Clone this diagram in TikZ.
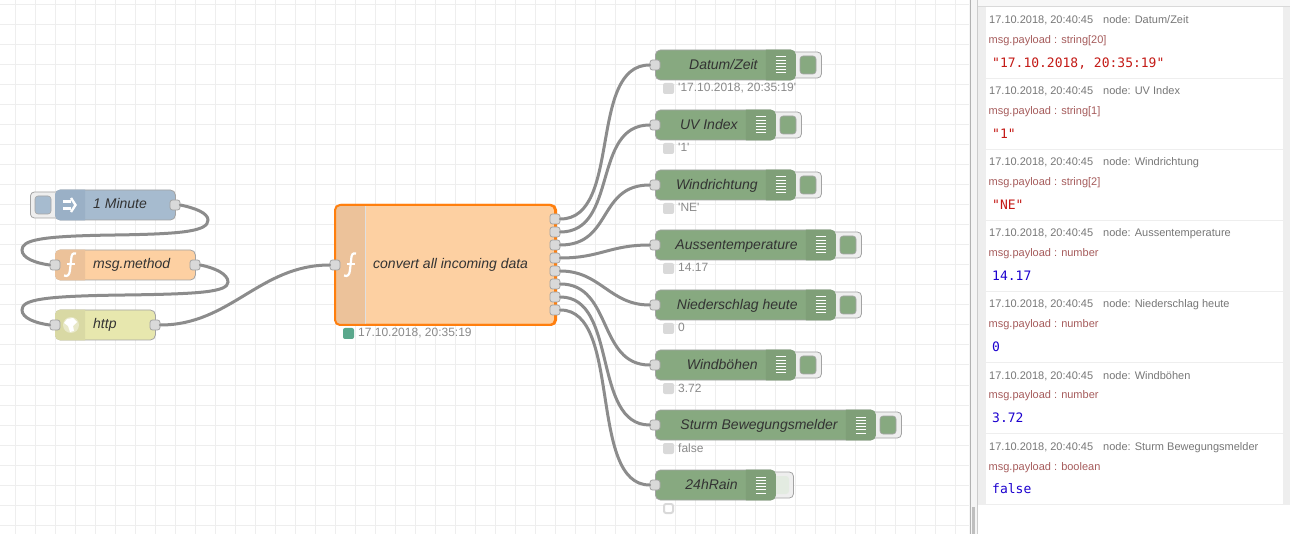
\documentclass[tikz,border=0pt]{standalone}
\usepackage{fontspec}
\newfontfamily\flowfont{Liberation Sans}
\newfontfamily\valuefont{DejaVu Sans Mono}
\definecolor{gridcol}{HTML}{EEEEEE}
\definecolor{wirecol}{HTML}{8C8C8C}
\definecolor{edgecol}{HTML}{A3A3A3}
\definecolor{portcol}{HTML}{D9D9D9}
\definecolor{injectcol}{HTML}{A6BBCF}
\definecolor{injectbar}{HTML}{9AB0C6}
\definecolor{funccol}{HTML}{FDD0A2}
\definecolor{funcbar}{HTML}{ECC29A}
\definecolor{httpcol}{HTML}{E7E7AE}
\definecolor{httpbar}{HTML}{D9D9A4}
\definecolor{debugcol}{HTML}{87A980}
\definecolor{debugbar}{HTML}{7F9F78}
\definecolor{palecol}{HTML}{E3EBE1}
\definecolor{selectcol}{HTML}{FF7F0E}
\definecolor{statusgreen}{HTML}{5AA88C}
\definecolor{statustext}{HTML}{8A8A8A}
\definecolor{metacol}{HTML}{777777}
\definecolor{typecol}{HTML}{A65C5C}
\definecolor{strcol}{HTML}{C41A16}
\definecolor{numcol}{HTML}{1C00CF}
\tikzset{
    flowbody/.style={draw=edgecol, line width=.8pt, rounded corners=5pt, inner sep=0pt, minimum height=30pt},
    flowlabel/.style={inner sep=0pt, text=black!80, font=\flowfont\fontsize{14}{16}\selectfont\itshape},
    flowport/.style={draw=edgecol, fill=portcol, line width=.8pt, rounded corners=2.5pt, inner sep=0pt, minimum size=10pt},
    wire/.style={draw=wirecol, line width=3pt, line cap=round},
    btnbox/.style={draw=edgecol, fill=gridcol, line width=.8pt, rounded corners=4pt, inner sep=0pt, minimum height=26pt},
    btninner/.style={draw=black!35, line width=.6pt, rounded corners=3pt, inner sep=0pt, minimum height=18pt, minimum width=16pt},
    statusdot/.style={rounded corners=2pt, inner sep=0pt, minimum size=11pt},
    statuslabel/.style={inner sep=0pt, anchor=base west, text=statustext, font=\flowfont\fontsize{12}{14}\selectfont},
    metalabel/.style={inner sep=0pt, anchor=base west, text=metacol, font=\flowfont\fontsize{11}{13}\selectfont},
    typelabel/.style={inner sep=0pt, anchor=base west, text=typecol, font=\flowfont\fontsize{11}{13}\selectfont},
    valuelabel/.style={inner sep=0pt, anchor=base west, font=\valuefont\fontsize{13}{15}\selectfont},
}
% name, y, width, label, status text, button width, inner style, status style
\newcommand{\debugnode}[8]{
    \node[btnbox, anchor=west, minimum width=#6pt] (#1btn) at (650+#3,#2) {};
    \node[btninner, #7] (#1inner) at (668+#3,#2) {};
    \node[flowbody, fill=debugcol, anchor=west, minimum width=#3pt] (#1) at (655,#2) {};
    \fill[debugbar] ([xshift=-30pt]#1.north east) [rounded corners=5pt] -- (#1.north east) -- (#1.south east) [sharp corners] -- ([xshift=-30pt]#1.south east) -- cycle;
    \foreach \k in {-8,-4.8,-1.6,1.6,4.8,8}
        \draw[white, line width=1pt] ([xshift=-20pt,yshift=\k pt]#1.east) -- ([xshift=-10pt,yshift=\k pt]#1.east);
    \node[flowlabel, anchor=base east] (#1label) at ([xshift=-38pt,yshift=-4.5pt]#1.east) {#4};
    \node[flowport] (#1in) at (655,#2) {};
    \node[statusdot, #8] (#1dot) at (668.5,#2+23.5) {};
    \node[statuslabel] (#1status) at (678,#2+27) {#5};
}
% the f of a function node
\newcommand{\funcicon}[2]{
    \begin{scope}[shift={(#1,#2)}]
        \draw[white, line width=2.2pt] (6,-11.5) .. controls (2.5,-12.5) and (1.5,-10) .. (1.2,-6) -- (0,5) .. controls (-.5,10) and (-2.5,12) .. (-6,10.5);
        \draw[white, line width=1.8pt] (-3.5,-1) -- (4.5,-1);
    \end{scope}
}
\begin{document}
\begin{tikzpicture}[x=1pt, y=-1pt]
    \useasboundingbox (0,0) rectangle (1290,534);
    \fill[white] (0,0) rectangle (1290,534);
    % grid of the workspace
    \foreach \gx in {15,35,...,955}
        \draw[gridcol, line width=1pt] (\gx,0) -- (\gx,534);
    \foreach \gy in {5,25,...,525}
        \draw[gridcol, line width=1pt] (0,\gy) -- (969,\gy);

    % input side
    \node[btnbox, anchor=west, minimum width=30pt] (minutebtn) at (30,205) {};
    \node[btninner, fill=injectcol] (minuteinner) at (43,205) {};
    \node[flowbody, fill=injectcol, anchor=west, minimum width=120pt] (minute) at (55,205) {};
    \fill[injectbar] ([xshift=30pt]minute.north west) [rounded corners=5pt] -- (minute.north west) -- (minute.south west) [sharp corners] -- ([xshift=30pt]minute.south west) -- cycle;
    \draw[white, line width=2.2pt] (63,201.5) -- (71,201.5) (63,208.5) -- (71,208.5);
    \draw[white, line width=2.4pt] (71,198) -- (75.5,205) -- (71,212);
    \node[flowlabel, anchor=base west] (minutelabel) at (93,209) {1 Minute};
    \node[flowport] (minuteout) at (175,205) {};

    \node[flowbody, fill=funccol, anchor=west, minimum width=140pt] (method) at (55,265) {};
    \fill[funcbar] ([xshift=30pt]method.north west) [rounded corners=5pt] -- (method.north west) -- (method.south west) [sharp corners] -- ([xshift=30pt]method.south west) -- cycle;
    \funcicon{70}{265}
    \node[flowlabel, anchor=base west] (methodlabel) at (93,269) {msg.method};
    \node[flowport] (methodin) at (55,265) {};
    \node[flowport] (methodout) at (195,265) {};

    \node[flowbody, fill=httpcol, anchor=west, minimum width=100pt] (http) at (55,325) {};
    \fill[httpbar] ([xshift=30pt]http.north west) [rounded corners=5pt] -- (http.north west) -- (http.south west) [sharp corners] -- ([xshift=30pt]http.south west) -- cycle;
    \fill[white, opacity=.4] (71,325) circle (8);
    \fill[white] (67,319) -- (73,318) -- (77,322) -- (73,326) -- (74,331) -- (70,332) -- (68,326) -- (64,323) -- cycle;
    \node[flowlabel, anchor=base west] (httplabel) at (93,329) {http};
    \node[flowport] (httpin) at (55,325) {};
    \node[flowport] (httpout) at (155,325) {};

    % the selected function
    \node[flowbody, draw=selectcol, line width=2pt, fill=funccol, anchor=west, minimum width=220pt, minimum height=120pt] (convert) at (335,265) {};
    \fill[funcbar] (336,206) -- (365,206) -- (365,324) -- (336,324) -- cycle;
    \draw[black!12, line width=.8pt] (365,206) -- (365,324);
    \draw[selectcol, line width=2pt, rounded corners=5pt] (335,205) rectangle (555,325);
    \funcicon{350}{265}
    \node[flowlabel, anchor=base west] (convertlabel) at (373,269) {convert all incoming data};
    \node[flowport] (convertin) at (335,265) {};
    \foreach \i/\py in {1/219,2/232,3/245,4/258,5/271,6/284,7/297,8/310}
        \node[flowport] (convert\i) at (555,\py) {};
    \node[statusdot, fill=statusgreen] (convertdot) at (348.5,333.5) {};
    \node[statuslabel] (convertstatus) at (358,337) {17.10.2018, 20:35:19};

    % debug nodes
    \debugnode{datum}{65}{140}{Datum/Zeit}{'17.10.2018, 20:35:19'}{31}{fill=debugcol}{fill=portcol}
    \debugnode{index}{125}{120}{UV Index}{'1'}{31}{fill=debugcol}{fill=portcol}
    \debugnode{wind}{185}{140}{Windrichtung}{'NE'}{31}{fill=debugcol}{fill=portcol}
    \debugnode{temp}{245}{180}{Aussentemperature}{14.17}{31}{fill=debugcol}{fill=portcol}
    \debugnode{rain}{305}{180}{Niederschlag heute}{0}{31}{fill=debugcol}{fill=portcol}
    \debugnode{gust}{365}{140}{Windböhen}{3.72}{31}{fill=debugcol}{fill=portcol}
    \debugnode{storm}{425}{220}{Sturm Bewegungsmelder}{false}{31}{fill=debugcol}{fill=portcol}
    \debugnode{daily}{485}{120}{24hRain}{}{23}{fill=palecol, draw=none, xshift=-7pt}{draw=portcol, line width=2pt, fill=white, minimum size=9pt}

    % wires
    \draw[wire] (minuteout.east) .. controls (195,208) and (208,213) .. (208,220) .. controls (208,231) and (185,234) .. (115,235) .. controls (40,236) and (22,240) .. (22,250) .. controls (22,258) and (35,263) .. (methodin.west);
    \draw[wire] (methodout.east) .. controls (215,268) and (228,274) .. (228,282) .. controls (228,292) and (200,294) .. (125,295) .. controls (40,296) and (22,300) .. (22,310) .. controls (22,318) and (35,323) .. (httpin.west);
    \draw[wire] (httpout.east) .. controls +(70,0) and +(-70,0) .. (convertin.west);
    \foreach \from/\to/\bend in {1/datum/62,2/index/58,3/wind/52,4/temp/40,5/rain/40,6/gust/52,7/storm/58,8/daily/62}
        \draw[wire] (convert\from.east) .. controls +(\bend,0) and +(-\bend,0) .. (\to in.west);

    % debug sidebar
    \fill[gridcol!60] (969,0) rectangle (978,534);
    \draw[black!30, line width=1pt] (970,0) -- (970,534);
    \draw[black!20, line width=1pt] (977.5,0) -- (977.5,534);
    \fill[black!25] (972,507) rectangle (975,534);
    \fill[gridcol!50] (978,0) rectangle (1290,6);
    \draw[black!15, line width=1pt] (978,6.5) -- (1290,6.5);
    \fill[gridcol] (978,7) rectangle (986,504);
    \fill[gridcol] (1283,7) rectangle (1290,504);
    \draw[gridcol, line width=1pt] (978,504.5) -- (1290,504.5);
    \foreach \i/\who/\kind/\val/\valcol in {
        0/{Datum/Zeit}/{string[20]}/{"17.10.2018, 20:35:19"}/strcol,
        1/{UV Index}/{string[1]}/{"1"}/strcol,
        2/Windrichtung/{string[2]}/{"NE"}/strcol,
        3/Aussentemperature/number/14.17/numcol,
        4/{Niederschlag heute}/number/0/numcol,
        5/Windböhen/number/3.72/numcol,
        6/{Sturm Bewegungsmelder}/boolean/false/numcol}{
        \pgfmathsetmacro{\rowy}{71*\i}
        \node[metalabel] (time\i) at (989,24+\rowy) {17.10.2018, 20:40:45};
        \node[metalabel] (source\i) at (1103,24+\rowy) {node: \who};
        \node[typelabel] (type\i) at (988.5,44+\rowy) {msg.payload : \kind};
        \node[valuelabel, text=\valcol] (value\i) at (992,67.5+\rowy) {\val};
        \ifnum\i<6
            \draw[gridcol, line width=1pt] (986,78.5+\rowy) -- (1283,78.5+\rowy);
        \fi
    }
\end{tikzpicture}
\end{document}
